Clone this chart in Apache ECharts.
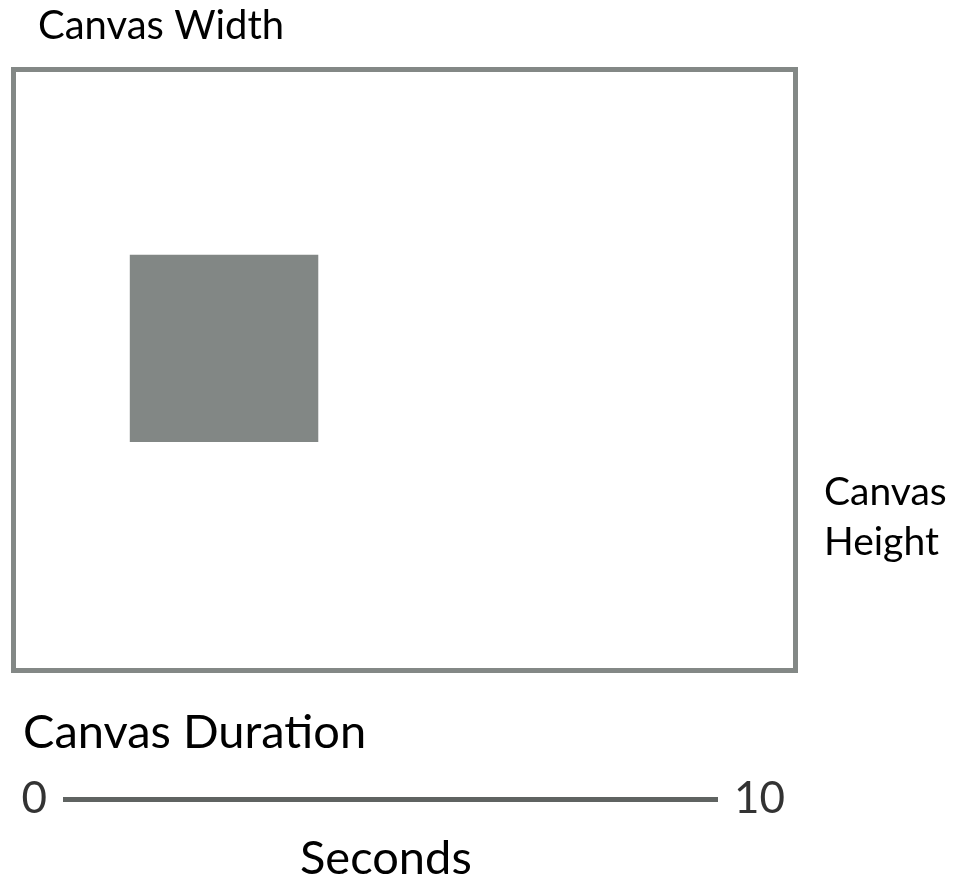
<!DOCTYPE html>
<html><head><meta charset="utf-8">
<script src="https://cdn.jsdelivr.net/npm/echarts@6/dist/echarts.min.js"></script>
<style>html,body{margin:0;padding:0;background:#fff}#c{width:959px;height:889px}</style>
</head><body><div id="c"></div>
<script>
// Canvas frame (arbitrary canvas units)
const canvasSize = [780, 600];            // width, height
// Placed element (rectangle on canvas): [x0, y0, x1, y1]
const elementBox = [116, 185, 304, 372];
// Duration timeline
const durationRange = [0, 10];
const durationLabels = ['0', '10'];
const texts = {width: 'Canvas Width', height: 'Canvas\nHeight', duration: 'Canvas Duration', unit: 'Seconds'};

const FONT = 'Lato';
const chart = echarts.init(document.getElementById('c'), null, {renderer: 'canvas'});
chart.setOption({
  animation: false,
  backgroundColor: '#ffffff',
  grid: [
    {left: 13.5, top: 69.5, width: 782, height: 601, show: true, borderColor: '#838886', borderWidth: 5, backgroundColor: 'transparent'},
    {left: 63, top: 799, width: 655, height: 0, show: false}
  ],
  xAxis: [
    {gridIndex: 0, type: 'value', min: 0, max: canvasSize[0], show: false},
    {gridIndex: 1, type: 'value', min: durationRange[0], max: durationRange[1], position: 'bottom',
     axisLine: {show: true, lineStyle: {color: '#5f6361', width: 5, cap: 'butt'}},
     axisTick: {show: false}, axisLabel: {show: false}, splitLine: {show: false}}
  ],
  yAxis: [
    {gridIndex: 0, type: 'value', min: 0, max: canvasSize[1], inverse: true, show: false},
    {gridIndex: 1, type: 'value', min: 0, max: 1, show: false}
  ],
  series: [
    {
      type: 'custom', xAxisIndex: 0, yAxisIndex: 0,
      data: [elementBox],
      renderItem: function (params, api) {
        const p0 = api.coord([api.value(0), api.value(1)]);
        const p1 = api.coord([api.value(2), api.value(3)]);
        return {type: 'rect', shape: {x: p0[0], y: p0[1], width: p1[0] - p0[0], height: p1[1] - p0[1]},
                style: {fill: '#828785'}};
      }
    },
    {
      type: 'scatter', xAxisIndex: 1, yAxisIndex: 1, symbolSize: 0.01,
      data: durationRange.map((v, i) => ({value: [v, 0], label: {position: i === 0 ? 'left' : 'right', formatter: durationLabels[i]}})),
      label: {show: true, distance: 16, color: '#000', fontSize: 44, fontFamily: FONT}
    }
  ],
  graphic: [
    {type: 'text', left: 38, top: 6, style: {text: texts.width, fontSize: 40, fontFamily: FONT, fill: '#000'}},
    {type: 'text', left: 824, top: 467, style: {text: texts.height, fontSize: 39, lineHeight: 50, fontFamily: FONT, fill: '#000'}},
    {type: 'text', left: 23, top: 709, style: {text: texts.duration, fontSize: 47, fontFamily: FONT, fill: '#000'}},
    {type: 'text', left: 300, top: 835, style: {text: texts.unit, fontSize: 47, fontFamily: FONT, fill: '#000'}}
  ]
});
</script></body></html>
